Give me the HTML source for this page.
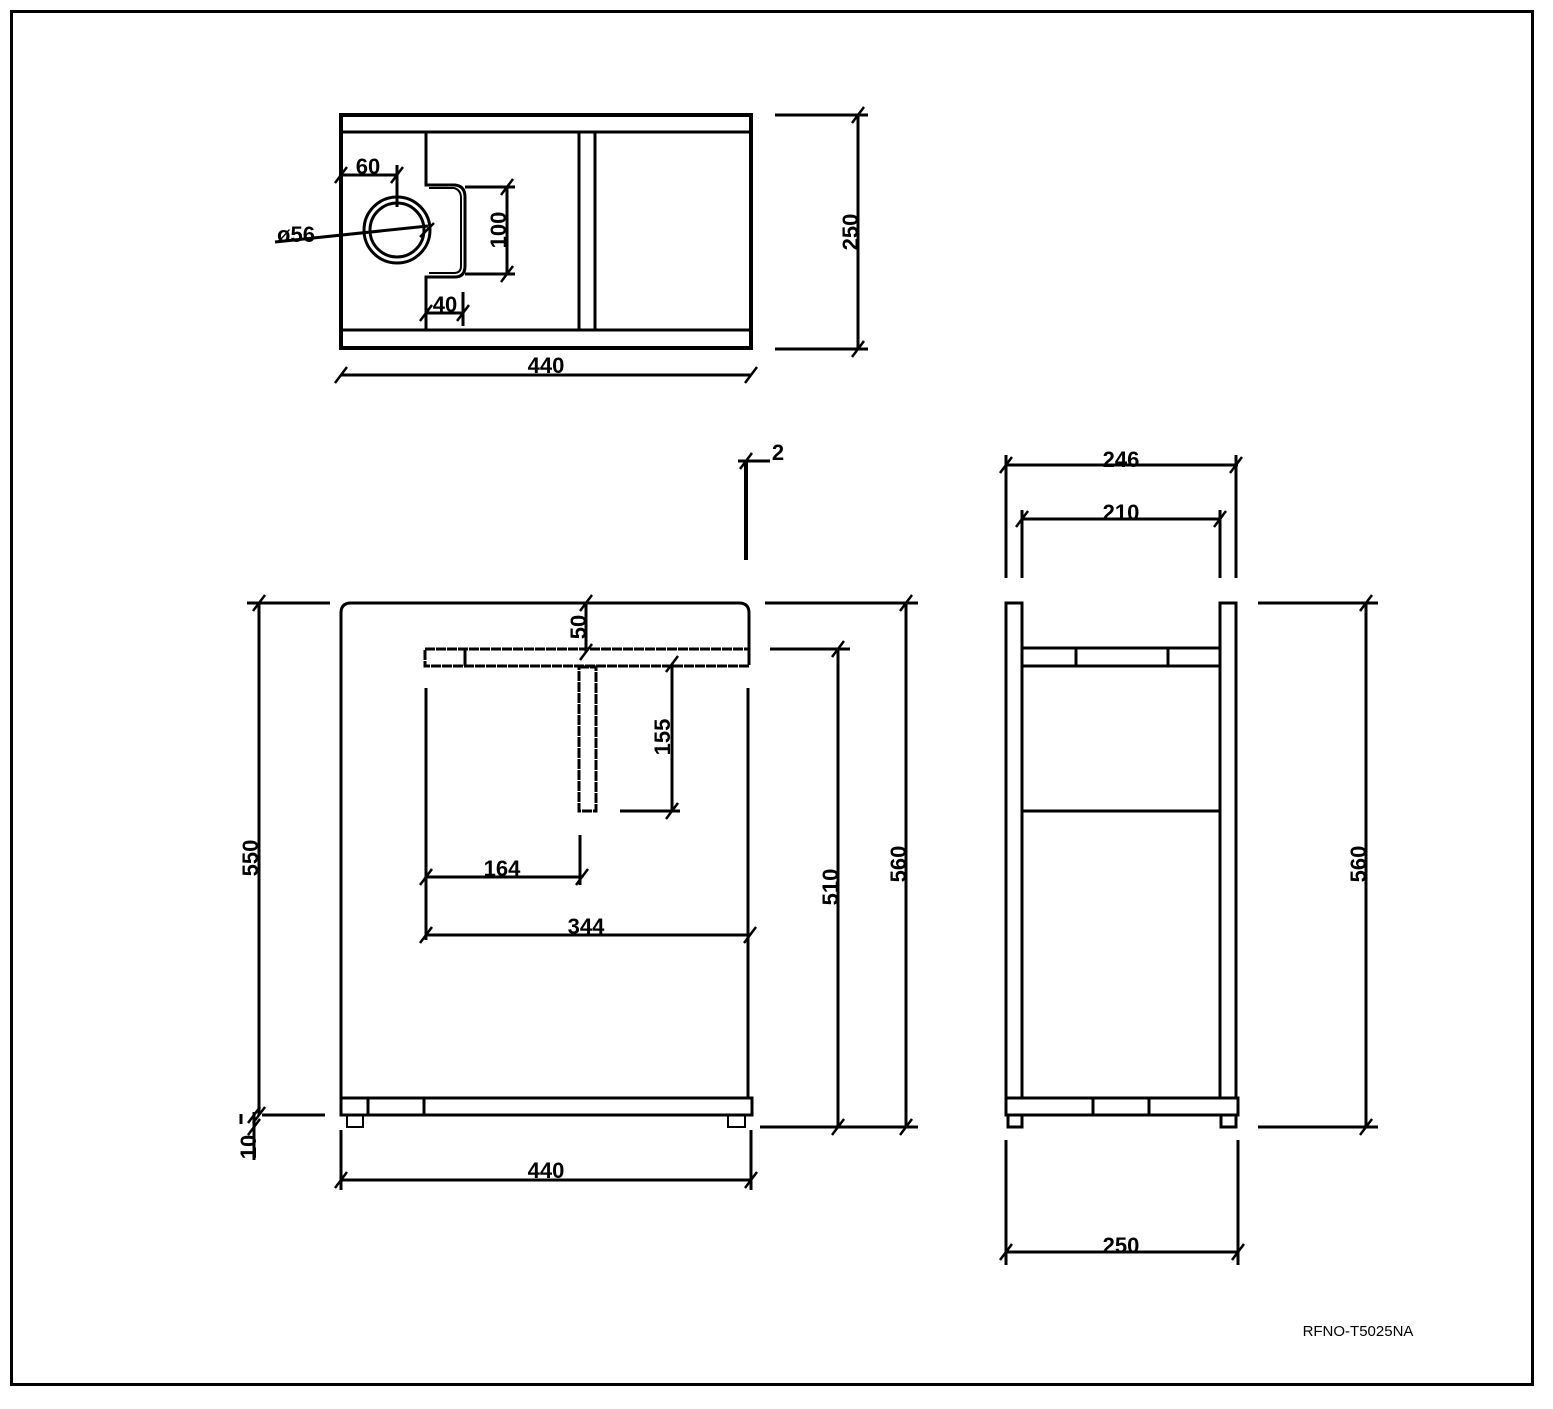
<!DOCTYPE html>
<html><head><style>html,body{margin:0;padding:0;background:#fff}svg{display:block}
text{font-family:"Liberation Sans",sans-serif;font-size:22px;font-weight:bold;fill:#000;text-anchor:middle}</style></head>
<body>
<svg width="1553" height="1409" viewBox="0 0 1553 1409" xmlns="http://www.w3.org/2000/svg">
<g fill="none" stroke="#000" stroke-width="3">
<rect x="11.5" y="11.5" width="1521" height="1373"/>
<rect x="341" y="115" width="410" height="233" stroke-width="4"/>
<line x1="341" y1="132" x2="751" y2="132"/><line x1="341" y1="330" x2="751" y2="330"/>
<line x1="579" y1="132" x2="579" y2="330"/><line x1="595" y1="132" x2="595" y2="330"/>
<path d="M426 132 V185 H455 Q465 186 465 197 V266 Q465 277 455 277 H426 V330"/>
<path d="M429 188 H454 Q461 190 461 198 V266 Q461 273 454 273 H429" stroke-width="2"/>
<circle cx="397" cy="230" r="33"/><circle cx="397" cy="230" r="27"/>
<line x1="341" y1="175" x2="397" y2="175"/><line x1="397" y1="165" x2="397" y2="207"/>
<line x1="275" y1="242" x2="428" y2="226"/>
<line x1="507" y1="187" x2="507" y2="273"/><line x1="465" y1="187" x2="515" y2="187"/><line x1="465" y1="274" x2="515" y2="274"/>
<line x1="426" y1="313" x2="463" y2="313"/><line x1="463" y1="292" x2="463" y2="326"/>
<line x1="341" y1="375" x2="751" y2="375"/>
<line x1="858" y1="115" x2="858" y2="349"/><line x1="775" y1="115" x2="868" y2="115"/><line x1="775" y1="349" x2="868" y2="349"/>
<path d="M341 1098 V613 Q341 603 351 603 H739 Q749 603 749 613 V655"/>
<line x1="748" y1="688" x2="748" y2="1098"/>
<rect x="341" y="1098" width="411" height="17"/>
<line x1="368" y1="1098" x2="368" y2="1115"/><line x1="424" y1="1098" x2="424" y2="1115"/>
<rect x="347" y="1115" width="16" height="12" stroke-width="2"/><rect x="728" y="1115" width="17" height="12" stroke-width="2"/>
<rect x="425" y="649" width="324" height="17" stroke-dasharray="10 1"/>
<line x1="465" y1="649" x2="465" y2="666"/>
<rect x="579" y="667" width="17" height="144" stroke-dasharray="10 1"/>
<line x1="426" y1="688" x2="426" y2="940"/>
<line x1="586" y1="603" x2="586" y2="652"/>
<line x1="672" y1="664" x2="672" y2="811"/><line x1="620" y1="811" x2="680" y2="811"/>
<line x1="426" y1="877" x2="582" y2="877"/><line x1="580" y1="835" x2="580" y2="885"/>
<line x1="426" y1="935" x2="750" y2="935"/>
<line x1="838" y1="649" x2="838" y2="1127"/><line x1="770" y1="649" x2="850" y2="649"/><line x1="760" y1="1127" x2="918" y2="1127"/>
<line x1="906" y1="603" x2="906" y2="1127"/><line x1="765" y1="603" x2="918" y2="603"/>
<line x1="259" y1="603" x2="259" y2="1115"/><line x1="247" y1="603" x2="330" y2="603"/><line x1="262" y1="1115" x2="325" y2="1115"/>
<line x1="254" y1="1112" x2="254" y2="1160"/><line x1="241" y1="1114" x2="241" y2="1124"/>
<line x1="341" y1="1180" x2="751" y2="1180"/><line x1="341" y1="1130" x2="341" y2="1190"/><line x1="751" y1="1130" x2="751" y2="1190"/>
<line x1="746" y1="462" x2="746" y2="560" stroke-width="4"/><line x1="738" y1="461" x2="770" y2="461"/>
<rect x="1006" y="603" width="16" height="495"/><rect x="1220" y="603" width="16" height="495"/>
<rect x="1022" y="648" width="198" height="18"/>
<line x1="1076" y1="648" x2="1076" y2="666"/><line x1="1168" y1="648" x2="1168" y2="666"/>
<line x1="1022" y1="811" x2="1220" y2="811"/>
<rect x="1006" y="1098" width="232" height="17"/>
<line x1="1093" y1="1098" x2="1093" y2="1115"/><line x1="1149" y1="1098" x2="1149" y2="1115"/>
<rect x="1008" y="1115" width="14" height="12"/><rect x="1221" y="1115" width="15" height="12"/>
<line x1="1006" y1="465" x2="1238" y2="465"/><line x1="1006" y1="455" x2="1006" y2="578"/><line x1="1236" y1="455" x2="1236" y2="578"/>
<line x1="1022" y1="519" x2="1220" y2="519"/><line x1="1022" y1="510" x2="1022" y2="578"/><line x1="1220" y1="510" x2="1220" y2="578"/>
<line x1="1006" y1="1252" x2="1238" y2="1252"/><line x1="1006" y1="1140" x2="1006" y2="1265"/><line x1="1238" y1="1140" x2="1238" y2="1265"/>
<line x1="1366" y1="603" x2="1366" y2="1127"/><line x1="1258" y1="603" x2="1378" y2="603"/><line x1="1258" y1="1127" x2="1378" y2="1127"/>
<g stroke-width="2.5">
<path d="M335 183l12-16M391 183l12-16M420 237l14-14"/>
<path d="M501 195l12-16M501 282l12-16M420 321l12-16M457 321l12-16"/>
<path d="M335 383l12-16M745 383l12-16M852 123l12-16M852 357l12-16"/>
<path d="M580 611l12-16M580 660l12-16M666 672l12-16M666 819l12-16"/>
<path d="M420 885l12-16M576 885l12-16M420 943l12-16M744 943l12-16"/>
<path d="M832 657l12-16M832 1135l12-16M900 611l12-16M900 1135l12-16"/>
<path d="M253 611l12-16M253 1123l12-16M248 1123l12-16M248 1135l12-16"/>
<path d="M335 1188l12-16M745 1188l12-16M740 469l12-16"/>
<path d="M1000 473l12-16M1230 473l12-16M1016 527l12-16M1214 527l12-16"/>
<path d="M1000 1260l12-16M1232 1260l12-16M1360 611l12-16M1360 1135l12-16"/>
</g>
</g>
<text x="368" y="174">60</text>
<text x="296" y="242">ø56</text>
<text x="0" y="0" transform="translate(506,230) rotate(-90)">100</text>
<text x="445" y="312">40</text>
<text x="546" y="373">440</text>
<text x="0" y="0" transform="translate(858,232) rotate(-90)">250</text>
<text x="0" y="0" transform="translate(586,627) rotate(-90)">50</text>
<text x="0" y="0" transform="translate(670,737) rotate(-90)">155</text>
<text x="502" y="876">164</text>
<text x="586" y="934">344</text>
<text x="0" y="0" transform="translate(838,887) rotate(-90)">510</text>
<text x="0" y="0" transform="translate(906,864) rotate(-90)">560</text>
<text x="0" y="0" transform="translate(258,858) rotate(-90)">550</text>
<text x="0" y="0" transform="translate(256,1147) rotate(-90)">10</text>
<text x="546" y="1178">440</text>
<text x="778" y="460">2</text>
<text x="1121" y="467">246</text>
<text x="1121" y="520">210</text>
<text x="1121" y="1253">250</text>
<text x="0" y="0" transform="translate(1366,864) rotate(-90)">560</text>
<text x="1358" y="1336" style="font-size:15px;font-weight:normal">RFNO-T5025NA</text>
</svg>
</body></html>
